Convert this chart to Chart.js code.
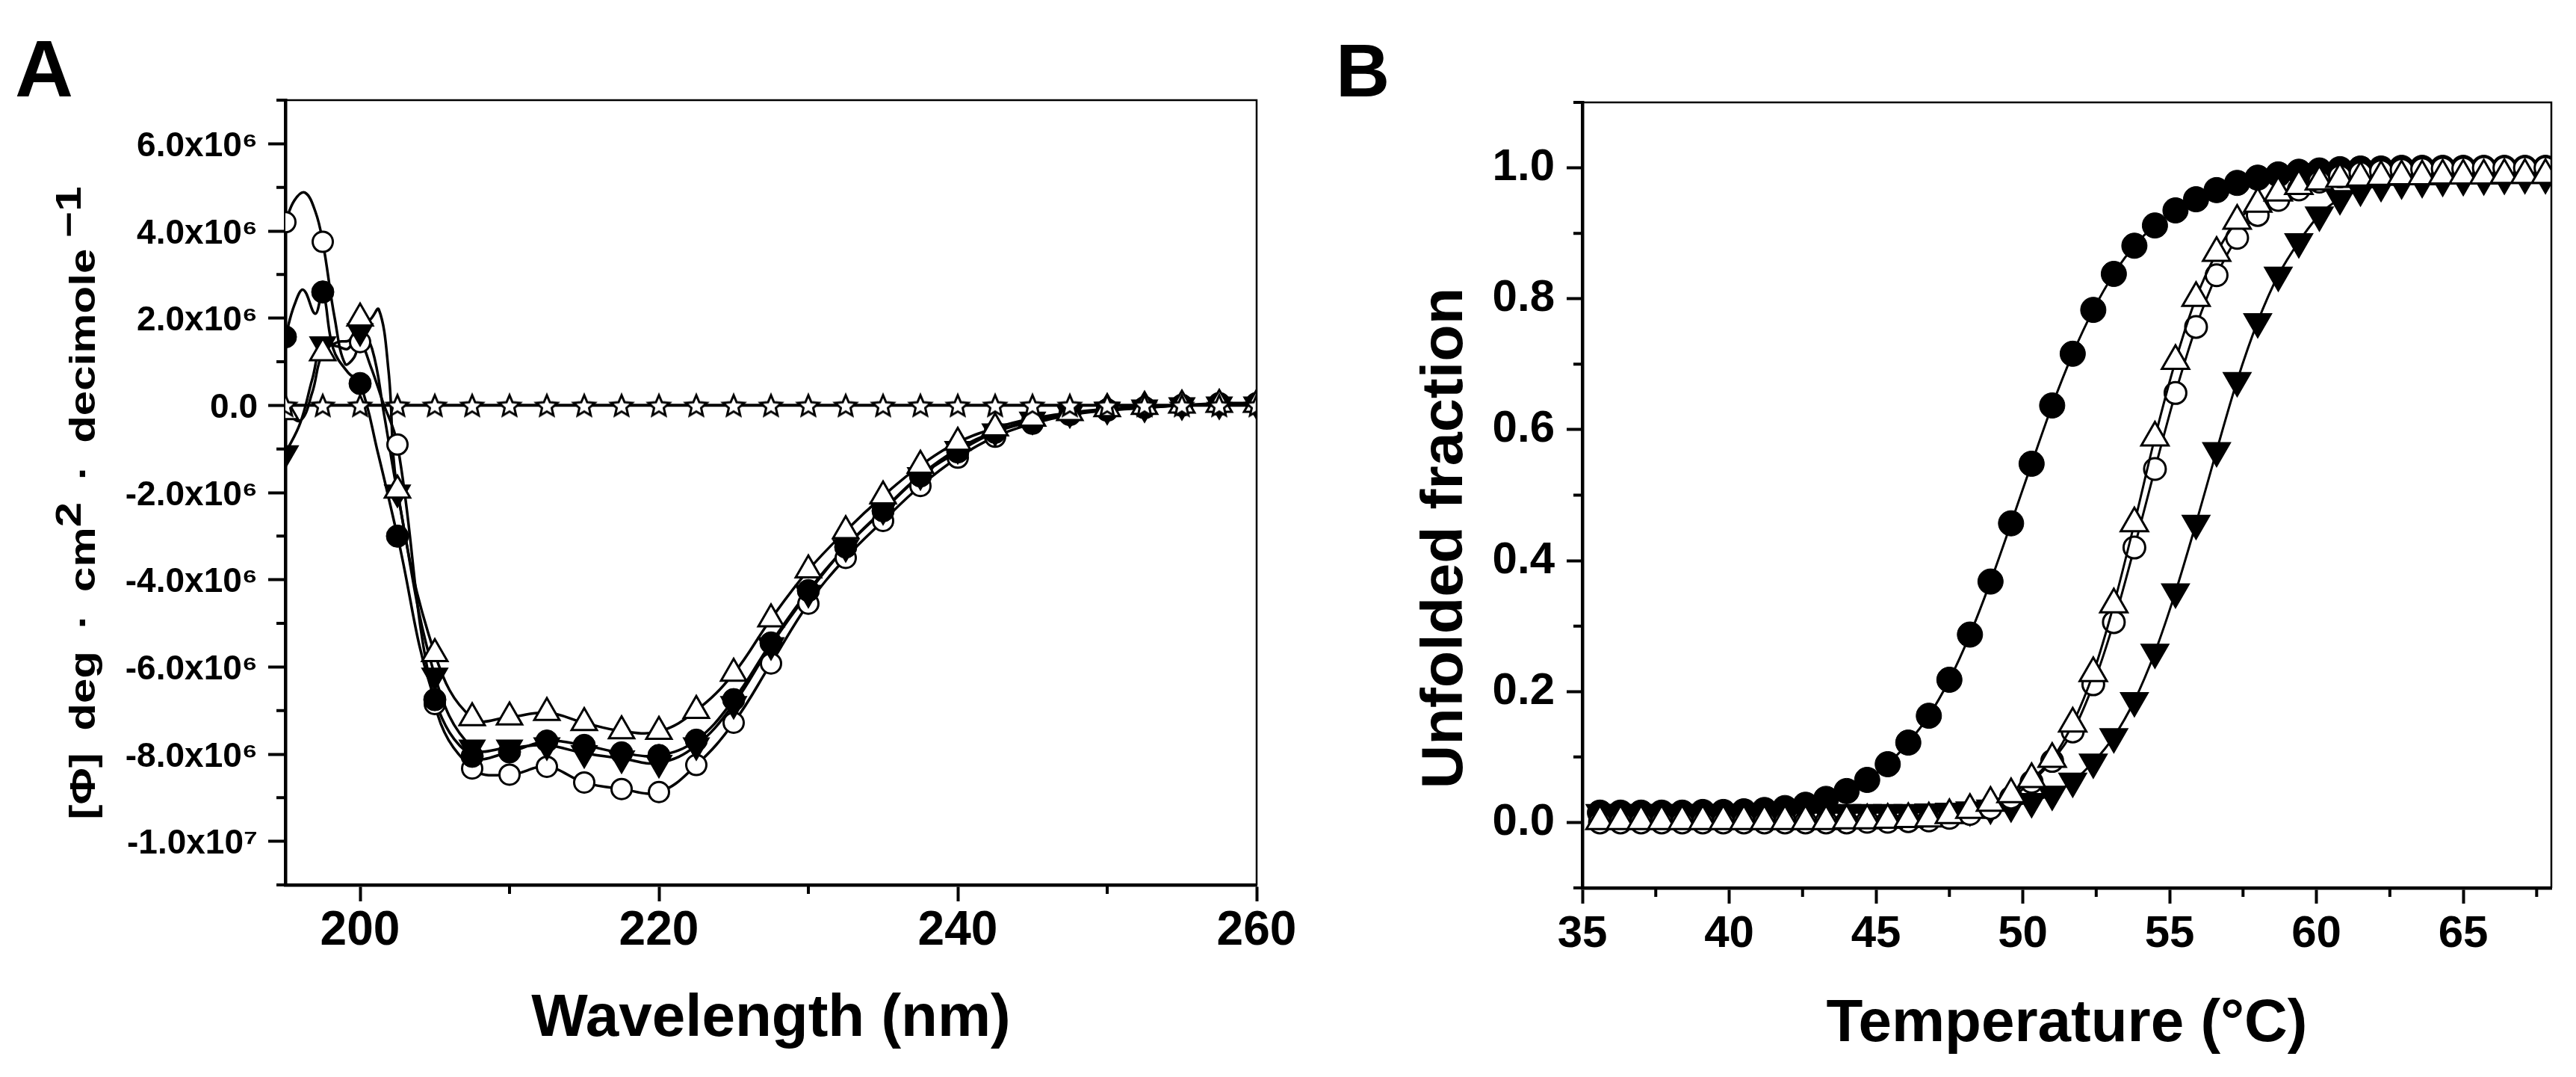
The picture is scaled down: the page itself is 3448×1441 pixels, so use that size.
<!DOCTYPE html>
<html>
<head>
<meta charset="utf-8">
<script src="https://cdn.jsdelivr.net/npm/chart.js@4.4.1/dist/chart.umd.min.js"></script>
<style>
html,body{margin:0;padding:0;background:#fff;}
#wrap{position:relative;width:3448px;height:1441px;overflow:hidden;background:#fff;}
canvas{position:absolute;top:0;}
#cA{left:0;}
#cB{left:1724px;}
.panel{position:absolute;font-family:'Liberation Sans',Arial,sans-serif;font-weight:bold;line-height:1;color:#000;}
</style>
</head>
<body>
<div id="wrap">
<canvas id="cA" width="1800" height="1441" style="width:1800px;height:1441px"></canvas>
<canvas id="cB" width="1724" height="1441" style="width:1724px;height:1441px"></canvas>
<div class="panel" style="left:20px;top:38px;font-size:108px">A</div>
<div class="panel" style="left:1788px;top:44px;font-size:100px">B</div>
</div>
<script>
// ---------------- Panel A data (CD spectra) ----------------
const wavelengths = [195,197.5,200,202.5,205,207.5,210,212.5,215,217.5,220,222.5,225,227.5,230,232.5,235,237.5,240,242.5,245,247.5,250,252.5,255,257.5,260];
const openCircleA = [4.20e6,3.75e6,1.45e6,-0.90e6,-6.85e6,-8.33e6,-8.47e6,-8.29e6,-8.65e6,-8.80e6,-8.87e6,-8.25e6,-7.28e6,-5.92e6,-4.55e6,-3.50e6,-2.65e6,-1.85e6,-1.20e6,-0.72e6,-0.42e6,-0.22e6,-0.12e6,-0.06e6,0.00e6,0.05e6,0.05e6];
const filledCircleA = [1.57e6,2.60e6,0.50e6,-3.00e6,-6.75e6,-8.05e6,-7.95e6,-7.70e6,-7.80e6,-7.97e6,-8.03e6,-7.68e6,-6.75e6,-5.45e6,-4.25e6,-3.25e6,-2.42e6,-1.62e6,-1.07e6,-0.62e6,-0.37e6,-0.20e6,-0.10e6,-0.05e6,0.00e6,0.02e6,0.03e6];
const openTriangleA = [-0.15e6,1.20e6,2.00e6,-1.95e6,-5.70e6,-7.17e6,-7.15e6,-7.05e6,-7.28e6,-7.47e6,-7.48e6,-7.00e6,-6.15e6,-4.90e6,-3.78e6,-2.88e6,-2.08e6,-1.38e6,-0.85e6,-0.52e6,-0.30e6,-0.17e6,-0.08e6,-0.03e6,0.00e6,0.02e6,0.02e6];
const downTriangleA = [-1.10e6,1.40e6,1.70e6,-2.00e6,-6.20e6,-7.85e6,-7.85e6,-7.80e6,-7.98e6,-8.10e6,-8.20e6,-7.80e6,-6.85e6,-5.50e6,-4.30e6,-3.25e6,-2.40e6,-1.60e6,-1.00e6,-0.60e6,-0.33e6,-0.18e6,-0.10e6,-0.05e6,0.00e6,0.02e6,0.02e6];
const starA = [0,0,0,0,0,0,0,0,0,0,0,0,0,0,0,0,0,0,0,0,0,0,0,0,0,0,0];
// extra trace points of the smooth curves between symbols (195-203 nm)
const openCircleTraceX = [195.6,196.3,197.0,198.3,199.0,199.6,200.7,201.5];
const openCircleTraceY = [4.70e6,4.88e6,4.45e6,2.00e6,0.95e6,1.10e6,0.90e6,0.10e6];
const filledCircleTraceX = [195.6,196.2,197.0,198.2,199.2,201.2];
const filledCircleTraceY = [2.30e6,2.65e6,2.10e6,1.30e6,0.75e6,-1.10e6];
const openTriangleTraceX = [196.0,196.8,198.5,199.3,200.6,201.25,201.9];
const openTriangleTraceY = [-0.35e6,0.30e6,1.45e6,1.50e6,1.95e6,2.20e6,0.80e6];
const downTriangleTraceX = [196.0,196.8,198.5,199.2,200.8,201.6];
const downTriangleTraceY = [-0.40e6,0.60e6,1.35e6,1.30e6,1.30e6,-0.20e6];

const xTicksA = [200,220,240,260];
const xTickLabelsA = ['200','220','240','260'];
const xMinorA = [210,230,250];
const yTicksA = [-1e7,-8e6,-6e6,-4e6,-2e6,0,2e6,4e6,6e6];
const yTickLabelsA = ['-1.0x10\u2077','-8.0x10\u2076','-6.0x10\u2076','-4.0x10\u2076','-2.0x10\u2076','0.0','2.0x10\u2076','4.0x10\u2076','6.0x10\u2076'];
const yMinorA = [-1.1e7,-9e6,-7e6,-5e6,-3e6,-1e6,1e6,3e6,5e6,7e6];

// ---------------- Panel B data (thermal unfolding) ----------------
const temperatures = [35.6,36.3,37.0,37.7,38.4,39.1,39.8,40.5,41.2,41.9,42.6,43.3,44.0,44.7,45.4,46.1,46.8,47.5,48.2,48.9,49.6,50.3,51.0,51.7,52.4,53.1,53.8,54.5,55.2,55.9,56.6,57.3,58.0,58.7,59.4,60.1,60.8,61.5,62.2,62.9,63.6,64.3,65.0,65.7,66.4,67.1,67.8];
const filledCircleB = [0.015,0.015,0.015,0.015,0.015,0.016,0.016,0.017,0.019,0.022,0.027,0.036,0.048,0.065,0.089,0.122,0.163,0.218,0.287,0.368,0.457,0.548,0.637,0.716,0.783,0.838,0.881,0.912,0.935,0.952,0.966,0.977,0.985,0.990,0.994,0.996,0.998,0.999,0.999,1.000,1.000,1.000,1.000,1.000,1.000,1.000,1.000];
const openCircleB = [0.000,0.000,0.000,0.000,0.000,0.000,0.000,0.000,0.000,0.000,0.000,0.000,0.000,0.001,0.001,0.002,0.003,0.007,0.013,0.022,0.038,0.062,0.094,0.139,0.211,0.306,0.420,0.540,0.656,0.757,0.836,0.893,0.928,0.951,0.967,0.979,0.987,0.992,0.995,0.997,0.998,0.999,0.999,1.000,1.000,1.000,1.000];
const openTriangleB = [0.002,0.002,0.002,0.002,0.002,0.002,0.002,0.002,0.002,0.002,0.002,0.002,0.003,0.003,0.004,0.005,0.006,0.011,0.019,0.030,0.043,0.066,0.097,0.151,0.228,0.333,0.457,0.588,0.705,0.801,0.870,0.919,0.945,0.962,0.972,0.979,0.983,0.985,0.986,0.987,0.987,0.988,0.988,0.988,0.989,0.989,0.989];
const downTriangleB = [0.015,0.015,0.015,0.015,0.015,0.015,0.015,0.015,0.015,0.015,0.015,0.015,0.015,0.015,0.015,0.015,0.016,0.017,0.019,0.022,0.025,0.032,0.043,0.063,0.092,0.131,0.186,0.260,0.352,0.457,0.568,0.675,0.765,0.836,0.887,0.928,0.953,0.966,0.973,0.977,0.979,0.981,0.982,0.983,0.984,0.985,0.985];

const xTicksB = [35,40,45,50,55,60,65];
const xTickLabelsB = ['35','40','45','50','55','60','65'];
const xMinorB = [37.5,42.5,47.5,52.5,57.5,62.5,67.5];
const yTicksB = [0,0.2,0.4,0.6,0.8,1.0];
const yTickLabelsB = ['0.0','0.2','0.4','0.6','0.8','1.0'];
const yMinorB = [-0.1,0.1,0.3,0.5,0.7,0.9,1.1];

// ---------------- helpers ----------------
const FONT = "'Liberation Sans', Arial, Helvetica, sans-serif";
Chart.defaults.font.family = FONT;
Chart.defaults.font.weight = 'bold';
Chart.defaults.color = '#000';

function pts(xs, ys) { return xs.map((x, i) => ({x: x, y: ys[i]})); }
function traced(xs, ys, ex, ey) { return pts(xs, ys).concat(pts(ex, ey)).sort((p, q) => p.x - q.x); }

function starImage(R, r, lw) {
  const size = Math.ceil(2 * R + 2 * lw + 2);
  const c = document.createElement('canvas');
  c.width = size; c.height = size;
  const g = c.getContext('2d');
  const cx = size / 2, cy = size / 2 + R * 0.09;
  g.beginPath();
  for (let i = 0; i < 10; i++) {
    const a = -Math.PI / 2 + i * Math.PI / 5;
    const rad = (i % 2 === 0) ? R : r;
    g.lineTo(cx + rad * Math.cos(a), cy + rad * Math.sin(a));
  }
  g.closePath();
  g.fillStyle = '#fff'; g.fill();
  g.lineWidth = lw; g.strokeStyle = '#000'; g.lineJoin = 'miter'; g.stroke();
  return c;
}

// frame (top/right) and minor ticks
const axisDecor = {
  id: 'axisDecor',
  afterDraw(chart, args, o) {
    const ctx = chart.ctx, a = chart.chartArea;
    const xs = chart.scales.x, ys = chart.scales.y;
    ctx.save();
    ctx.strokeStyle = '#000';
    ctx.lineWidth = o.frameWidth;
    ctx.beginPath();
    ctx.moveTo(a.left, a.top); ctx.lineTo(a.right, a.top); ctx.lineTo(a.right, a.bottom);
    ctx.stroke();
    ctx.lineWidth = o.tickWidth;
    ctx.beginPath();
    o.minorX.forEach(v => { const p = xs.getPixelForValue(v); ctx.moveTo(p, a.bottom); ctx.lineTo(p, a.bottom + o.minorLen); });
    o.minorY.forEach(v => { const p = ys.getPixelForValue(v); ctx.moveTo(a.left, p); ctx.lineTo(a.left - o.minorLen, p); });
    ctx.stroke();
    ctx.restore();
  }
};

// rotated y-axis title with optional raised (superscript) pieces
const yTitle = {
  id: 'yTitle',
  afterDraw(chart, args, o) {
    const ctx = chart.ctx;
    ctx.save();
    ctx.font = 'bold ' + o.size + 'px ' + FONT;
    ctx.fillStyle = '#000';
    ctx.textBaseline = 'alphabetic';
    ctx.textAlign = 'left';
    const widths = o.pieces.map(p => p.text ? ctx.measureText(p.text).width : 0);
    const textW = widths.reduce((s, w) => s + w, 0);
    const nSp = o.pieces.reduce((s, p) => s + (p.space || 0), 0);
    const total = o.length ? o.length : textW;
    const sp = nSp > 0 ? (total - textW) / nSp : 0;
    ctx.translate(o.baselineX, o.centerY + total / 2);
    ctx.rotate(-Math.PI / 2);
    ctx.scale(1, o.squash || 1);
    let x = 0;
    o.pieces.forEach((p, i) => {
      if (p.space) { x += sp * p.space; return; }
      ctx.fillText(p.text, x, p.sup ? -o.raise : 0);
      x += widths[i];
    });
    ctx.restore();
  }
};

function gridOpts(len) {
  return {display: true, drawOnChartArea: false, drawTicks: true, tickLength: len, tickWidth: 4, tickColor: '#000'};
}

// ---------------- Chart A ----------------
const starImg = starImage(15, 6.8, 3);
const circleOpen = {pointStyle: 'circle', pointRadius: 13.5, pointBackgroundColor: '#fff', pointBorderColor: '#000', pointBorderWidth: 3};
const circleFilled = {pointStyle: 'circle', pointRadius: 15, pointBackgroundColor: '#000', pointBorderColor: '#000', pointBorderWidth: 1};
const triOpen = {pointStyle: 'triangle', pointRadius: 19.5, pointBackgroundColor: '#fff', pointBorderColor: '#000', pointBorderWidth: 3};
const triDown = {pointStyle: 'triangle', pointRotation: 180, pointRadius: 19.5, pointBackgroundColor: '#000', pointBorderColor: '#000', pointBorderWidth: 2};
const lineA = {showLine: true, pointRadius: 0, borderColor: '#000', borderWidth: 3.5, tension: 0.4, fill: false};

new Chart(document.getElementById('cA'), {
  type: 'scatter',
  data: {
    datasets: [
      Object.assign({label: 'buffer', data: pts(wavelengths, starA), showLine: true, borderColor: '#000', borderWidth: 4, tension: 0,
        pointStyle: starImg, pointRadius: 15}),
      Object.assign({label: 'open triangles', data: pts(wavelengths, openTriangleA), showLine: false}, triOpen),
      Object.assign({label: 'filled triangles', data: pts(wavelengths, downTriangleA), showLine: false}, triDown),
      Object.assign({label: 'filled circles', data: pts(wavelengths, filledCircleA), showLine: false}, circleFilled),
      Object.assign({label: 'open circles', data: pts(wavelengths, openCircleA), showLine: false}, circleOpen),
      Object.assign({label: 'open circles trace', data: traced(wavelengths, openCircleA, openCircleTraceX, openCircleTraceY)}, lineA),
      Object.assign({label: 'filled circles trace', data: traced(wavelengths, filledCircleA, filledCircleTraceX, filledCircleTraceY)}, lineA),
      Object.assign({label: 'open triangles trace', data: traced(wavelengths, openTriangleA, openTriangleTraceX, openTriangleTraceY)}, lineA),
      Object.assign({label: 'filled triangles trace', data: traced(wavelengths, downTriangleA, downTriangleTraceX, downTriangleTraceY)}, lineA)
    ]
  },
  options: {
    responsive: false, animation: false, devicePixelRatio: 1, events: [],
    layout: {padding: {left: 0, top: 134, right: 118, bottom: 0}},
    plugins: {
      legend: {display: false}, tooltip: {enabled: false},
      axisDecor: {frameWidth: 2.5, tickWidth: 4, minorLen: 12, minorX: xMinorA, minorY: yMinorA},
      yTitle: {size: 60, baselineX: 127, centerY: 673, length: 847, raise: 24, squash: 0.8,
        pieces: [{text: '[\u03A6]'}, {space: 1}, {text: 'deg'}, {space: 1}, {text: '\u00B7'}, {space: 1}, {text: 'cm'}, {text: '2', sup: true},
                 {space: 1}, {text: '\u00B7'}, {space: 1}, {text: 'decimole'}, {space: 0.5}, {text: '\u22121', sup: true}]}
    },
    scales: {
      x: {
        type: 'linear', min: 195, max: 260,
        afterBuildTicks: s => { s.ticks = xTicksA.map(v => ({value: v})); },
        afterFit: s => { s.height = 257; s.paddingLeft = 0; s.paddingRight = 0; },
        ticks: {font: {size: 64, weight: 'bold'}, color: '#000', padding: 2, autoSkip: false, maxRotation: 0,
          callback: (v, i) => xTickLabelsA[i]},
        grid: gridOpts(22),
        border: {display: true, width: 4.5, color: '#000'},
        title: {display: true, text: 'Wavelength (nm)', color: '#000', font: {size: 80, weight: 'bold'}, padding: {top: 0, bottom: 29}}
      },
      y: {
        type: 'linear', min: -1.1e7, max: 7e6,
        afterBuildTicks: s => { s.ticks = yTicksA.map(v => ({value: v})); },
        afterFit: s => { s.width = 382; s.paddingTop = 0; s.paddingBottom = 0; },
        ticks: {font: {size: 46, weight: 'bold'}, color: '#000', padding: 14, labelOffset: 4, autoSkip: false,
          callback: (v, i) => yTickLabelsA[i]},
        grid: gridOpts(23),
        border: {display: true, width: 4.5, color: '#000'}
      }
    }
  },
  plugins: [axisDecor, yTitle]
});

// ---------------- Chart B ----------------
const bStyle = {showLine: true, borderColor: '#000', borderWidth: 3, tension: 0.3, fill: false};
new Chart(document.getElementById('cB'), {
  type: 'scatter',
  data: {
    datasets: [
      Object.assign({label: 'open triangles', data: pts(temperatures, openTriangleB), pointStyle: 'triangle', pointRadius: 21,
        pointBackgroundColor: '#fff', pointBorderColor: '#000', pointBorderWidth: 3}, bStyle),
      Object.assign({label: 'open circles', data: pts(temperatures, openCircleB), pointStyle: 'circle', pointRadius: 14.5,
        pointBackgroundColor: '#fff', pointBorderColor: '#000', pointBorderWidth: 3}, bStyle),
      Object.assign({label: 'filled triangles', data: pts(temperatures, downTriangleB), pointStyle: 'triangle', pointRotation: 180, pointRadius: 21,
        pointBackgroundColor: '#000', pointBorderColor: '#000', pointBorderWidth: 2}, bStyle),
      Object.assign({label: 'filled circles', data: pts(temperatures, filledCircleB), pointStyle: 'circle', pointRadius: 17,
        pointBackgroundColor: '#000', pointBorderColor: '#000', pointBorderWidth: 1}, bStyle)
    ]
  },
  options: {
    responsive: false, animation: false, devicePixelRatio: 1, events: [],
    layout: {padding: {left: 0, top: 137, right: 33, bottom: 0}},
    plugins: {
      legend: {display: false}, tooltip: {enabled: false},
      axisDecor: {frameWidth: 2.5, tickWidth: 4, minorLen: 12, minorX: xMinorB, minorY: yMinorB},
      yTitle: {size: 81, baselineX: 233, centerY: 720, length: 0, raise: 0, squash: 0.95,
        pieces: [{text: 'Unfolded fraction'}]}
    },
    scales: {
      x: {
        type: 'linear', min: 35, max: 68,
        afterBuildTicks: s => { s.ticks = xTicksB.map(v => ({value: v})); },
        afterFit: s => { s.height = 253; s.paddingLeft = 0; s.paddingRight = 0; },
        ticks: {font: {size: 60, weight: 'bold'}, color: '#000', padding: 5, autoSkip: false, maxRotation: 0,
          callback: (v, i) => xTickLabelsB[i]},
        grid: gridOpts(21),
        border: {display: true, width: 4.5, color: '#000'},
        title: {display: true, text: 'Temperature (\u00B0C)', color: '#000', font: {size: 80, weight: 'bold'}, padding: {top: 0, bottom: 22}}
      },
      y: {
        type: 'linear', min: -0.1, max: 1.1,
        afterBuildTicks: s => { s.ticks = yTicksB.map(v => ({value: v})); },
        afterFit: s => { s.width = 394; s.paddingTop = 0; s.paddingBottom = 0; },
        ticks: {font: {size: 60, weight: 'bold'}, color: '#000', padding: 16, autoSkip: false,
          callback: (v, i) => yTickLabelsB[i]},
        grid: gridOpts(21),
        border: {display: true, width: 4.5, color: '#000'}
      }
    }
  },
  plugins: [axisDecor, yTitle]
});
</script>
</body>
</html>
